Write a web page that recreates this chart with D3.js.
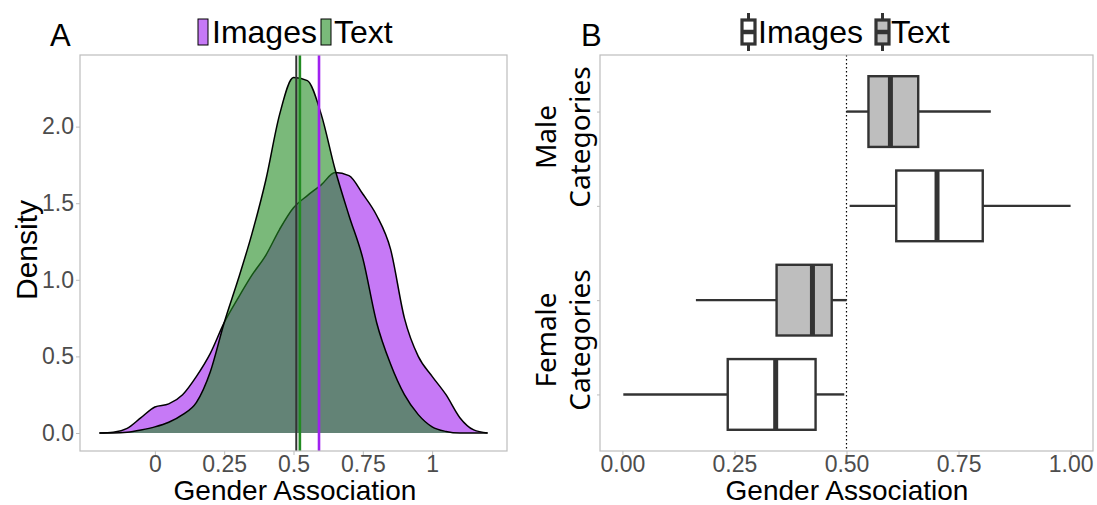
<!DOCTYPE html>
<html>
<head>
<meta charset="utf-8">
<script src="https://cdn.jsdelivr.net/npm/d3@7"></script>
<style>
  body { margin: 0; background: #fff; }
  svg { display: block; }
</style>
</head>
<body>
<script>
var width = 1097;
var height = 505;

// ---- panel A data: density curves ----
var densX = [-0.2, -0.15, -0.1, -0.05, 0, 0.05, 0.1, 0.15, 0.2, 0.25, 0.3, 0.35, 0.4, 0.45,
             0.5, 0.55, 0.6, 0.65, 0.7, 0.75, 0.8, 0.85, 0.9, 0.95, 1.0, 1.05, 1.1, 1.15, 1.2];
var densImages = [0, 0.005, 0.03, 0.1, 0.17, 0.19, 0.25, 0.37, 0.52, 0.72, 0.88, 1.03, 1.16, 1.33,
                  1.47, 1.55, 1.62, 1.7, 1.68, 1.56, 1.42, 1.2, 0.75, 0.5, 0.37, 0.25, 0.1, 0.02, 0];
var densText = [0, 0, 0.005, 0.02, 0.04, 0.07, 0.12, 0.2, 0.4, 0.72, 1.0, 1.3, 1.65, 2.08,
                2.32, 2.3, 2.08, 1.72, 1.42, 1.14, 0.72, 0.45, 0.25, 0.12, 0.04, 0.01, 0, 0, 0];
var meanLines = [0.51, 0.523, 0.592];
var meanColors = ["#333333", "#228B22", "#A020F0"];
var densTicks = [0, 0.25, 0.5, 0.75, 1];
var densTickLabels = ["0", "0.25", "0.5", "0.75", "1"];
var densYTicks = [0, 0.5, 1, 1.5, 2];

// ---- panel B data: box plots ----
var boxKeys = ["Female-Images", "Female-Text", "Male-Images", "Male-Text"];
var boxGroup = ["Images", "Text", "Images", "Text"];
var boxMin = [0.002, 0.164, 0.507, 0.5];
var boxQ1 = [0.235, 0.344, 0.611, 0.549];
var boxMedian = [0.342, 0.424, 0.702, 0.598];
var boxQ3 = [0.431, 0.467, 0.804, 0.66];
var boxMax = [0.495, 0.5, 1.0, 0.822];
var boxTicks = [0, 0.25, 0.5, 0.75, 1];
var categoryLabels = ["Male", "Female"];

var purple = "#A020F0";
var green = "#228B22";
var greyFill = "#BEBEBE";
var boxStroke = "#333333";
var borderColor = "#BDBDBD";
var tickTextColor = "#4D4D4D";
var fontA = "'Liberation Sans', Arial, sans-serif";
var fontCat = "'Noto Sans', 'Open Sans', sans-serif";

var svg = d3.select('body').append('svg')
    .attr('width', width)
    .attr('height', height);

// ================= Panel A =================
var ax = d3.scaleLinear().domain([-0.27, 1.27]).range([80, 507]);
var ay = d3.scaleLinear().domain([-0.1175, 2.4675]).range([451, 55]);

var area = d3.area()
    .x(function (d) { return ax(d[0]); })
    .y0(ay(0))
    .y1(function (d) { return ay(d[1]); })
    .curve(d3.curveMonotoneX);
var line = d3.line()
    .x(function (d) { return ax(d[0]); })
    .y(function (d) { return ay(d[1]); })
    .curve(d3.curveMonotoneX);

var imagesPts = densX.map(function (x, i) { return [x, densImages[i]]; });
var textPts = densX.map(function (x, i) { return [x, densText[i]]; });

var gA = svg.append('g');
[[imagesPts, purple], [textPts, green]].forEach(function (s) {
    gA.append('path').attr('d', area(s[0]))
        .attr('fill', s[1]).attr('fill-opacity', 0.6);
    gA.append('path').attr('d', line(s[0]))
        .attr('fill', 'none').attr('stroke', '#000').attr('stroke-width', 1.5);
});

gA.selectAll('.mean')
    .data(meanLines)
    .enter()
    .append('line')
    .attr('x1', function (d) { return ax(d); })
    .attr('x2', function (d) { return ax(d); })
    .attr('y1', 55).attr('y2', 451)
    .attr('stroke', function (d, i) { return meanColors[i]; })
    .attr('stroke-width', function (d, i) { return i === 0 ? 2 : 2.6; });

gA.append('rect')
    .attr('x', 80).attr('y', 55).attr('width', 427).attr('height', 396)
    .attr('fill', 'none').attr('stroke', borderColor).attr('stroke-width', 1.2);

var xAxisA = gA.append('g').attr('transform', 'translate(0,451)')
    .call(d3.axisBottom(ax).tickValues(densTicks)
        .tickFormat(function (d, i) { return densTickLabels[i]; })
        .tickSize(4).tickPadding(1));
var yAxisA = gA.append('g').attr('transform', 'translate(80,0)')
    .call(d3.axisLeft(ay).tickValues(densYTicks).tickFormat(d3.format('.1f'))
        .tickSize(4).tickPadding(2));
[xAxisA, yAxisA].forEach(function (g) {
    g.select('.domain').remove();
    g.selectAll('.tick line').attr('stroke', borderColor);
    g.selectAll('.tick text').attr('fill', tickTextColor)
        .style('font-family', fontA).style('font-size', '23px');
});

svg.append('text').text('Gender Association')
    .attr('x', 295).attr('y', 499.5).attr('text-anchor', 'middle')
    .style('font-family', fontA).style('font-size', '28px');
svg.append('text').text('Density')
    .attr('transform', 'translate(37,250) rotate(-90)').attr('text-anchor', 'middle')
    .style('font-family', fontA).style('font-size', '30px');
svg.append('text').text('A')
    .attr('x', 50).attr('y', 46)
    .style('font-family', fontA).style('font-size', '31px');

// legend A
var legA = svg.append('g');
[["Images", purple, 198, 212], ["Text", green, 321, 334]].forEach(function (l) {
    legA.append('rect').attr('x', l[2]).attr('y', 19).attr('width', 10).attr('height', 26)
        .attr('fill', l[1]).attr('fill-opacity', 0.6).attr('stroke', '#000').attr('stroke-width', 1);
    legA.append('text').text(l[0]).attr('x', l[3]).attr('y', 43)
        .style('font-family', fontA).style('font-size', '32px');
});

// ================= Panel B =================
var bx = d3.scaleLinear().domain([-0.05, 1.05]).range([600, 1093]);
var by = d3.scalePoint().domain(boxKeys).range([451, 55]).padding(0.6);
var half = by.step() * 0.375;

var gB = svg.append('g');
gB.append('line')
    .attr('x1', bx(0.5)).attr('x2', bx(0.5)).attr('y1', 55).attr('y2', 451)
    .attr('stroke', '#000').attr('stroke-width', 1.2).attr('stroke-dasharray', '1.5,2.5');

var boxes = gB.selectAll('.box')
    .data(boxKeys)
    .enter()
    .append('g')
    .attr('class', 'box');
boxes.append('line')
    .attr('x1', function (d, i) { return bx(boxMin[i]); })
    .attr('x2', function (d, i) { return bx(boxQ1[i]); })
    .attr('y1', function (d) { return by(d); })
    .attr('y2', function (d) { return by(d); })
    .attr('stroke', boxStroke).attr('stroke-width', 2.4);
boxes.append('line')
    .attr('x1', function (d, i) { return bx(boxQ3[i]); })
    .attr('x2', function (d, i) { return bx(boxMax[i]); })
    .attr('y1', function (d) { return by(d); })
    .attr('y2', function (d) { return by(d); })
    .attr('stroke', boxStroke).attr('stroke-width', 2.4);
boxes.append('rect')
    .attr('x', function (d, i) { return bx(boxQ1[i]); })
    .attr('width', function (d, i) { return bx(boxQ3[i]) - bx(boxQ1[i]); })
    .attr('y', function (d) { return by(d) - half; })
    .attr('height', half * 2)
    .attr('fill', function (d, i) { return boxGroup[i] === 'Text' ? greyFill : '#fff'; })
    .attr('stroke', boxStroke).attr('stroke-width', 2.4);
boxes.append('line')
    .attr('x1', function (d, i) { return bx(boxMedian[i]); })
    .attr('x2', function (d, i) { return bx(boxMedian[i]); })
    .attr('y1', function (d) { return by(d) - half; })
    .attr('y2', function (d) { return by(d) + half; })
    .attr('stroke', boxStroke).attr('stroke-width', 5);

gB.append('rect')
    .attr('x', 600).attr('y', 55).attr('width', 493).attr('height', 396)
    .attr('fill', 'none').attr('stroke', borderColor).attr('stroke-width', 1.2);

var xAxisB = gB.append('g').attr('transform', 'translate(0,451)')
    .call(d3.axisBottom(bx).tickValues(boxTicks).tickFormat(d3.format('.2f'))
        .tickSize(4).tickPadding(1));
var yAxisB = gB.append('g').attr('transform', 'translate(600,0)')
    .call(d3.axisLeft(by).tickFormat('').tickSize(3));
[xAxisB, yAxisB].forEach(function (g) {
    g.select('.domain').remove();
    g.selectAll('.tick line').attr('stroke', borderColor);
    g.selectAll('.tick text').attr('fill', tickTextColor)
        .style('font-family', fontA).style('font-size', '23px');
});

svg.append('text').text('Gender Association')
    .attr('x', 847).attr('y', 499.5).attr('text-anchor', 'middle')
    .style('font-family', fontA).style('font-size', '28px');
svg.append('text').text('B')
    .attr('x', 581).attr('y', 46)
    .style('font-family', fontA).style('font-size', '31px');

// category labels (two lines, rotated)
var catY = [137, 340];
categoryLabels.forEach(function (c, i) {
    var t = svg.append('text')
        .attr('transform', 'translate(0,' + catY[i] + ') rotate(-90)')
        .attr('text-anchor', 'middle')
        .style('font-family', fontCat).style('font-size', '28px');
    t.append('tspan').attr('x', 0).attr('y', 556).text(c);
    t.append('tspan').attr('x', 0).attr('y', 590).text('Categories');
});

// legend B: box glyph keys
var legB = svg.append('g');
[["Images", "#fff", 742, 758], ["Text", greyFill, 876, 891]].forEach(function (l) {
    var cx = l[2] + 6.5;
    legB.append('line').attr('x1', cx).attr('x2', cx).attr('y1', 13).attr('y2', 51)
        .attr('stroke', boxStroke).attr('stroke-width', 3);
    legB.append('rect').attr('x', l[2]).attr('y', 20).attr('width', 13).attr('height', 24)
        .attr('fill', l[1]).attr('stroke', boxStroke).attr('stroke-width', 3.2);
    legB.append('line').attr('x1', l[2]).attr('x2', l[2] + 13).attr('y1', 32).attr('y2', 32)
        .attr('stroke', boxStroke).attr('stroke-width', 4.5);
    legB.append('text').text(l[0]).attr('x', l[3]).attr('y', 43)
        .style('font-family', fontA).style('font-size', '32px');
});
</script>
</body>
</html>
